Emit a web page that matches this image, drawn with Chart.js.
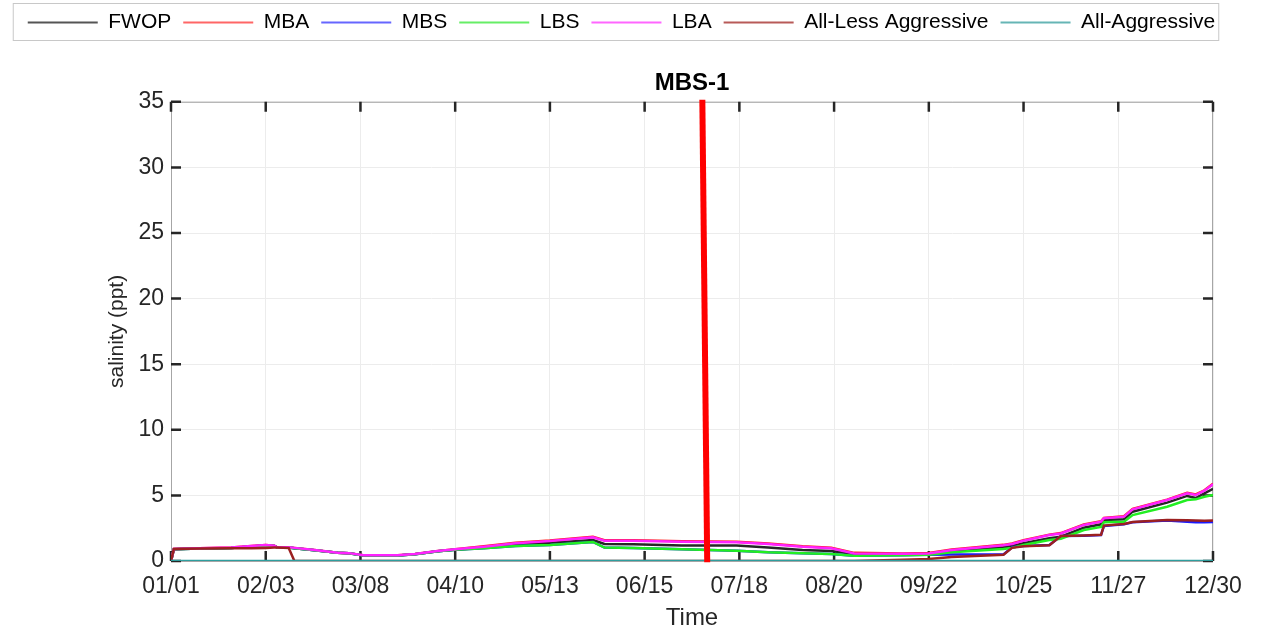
<!DOCTYPE html>
<html>
<head>
<meta charset="utf-8">
<script src="https://cdn.jsdelivr.net/npm/chart.js@4.4.1/dist/chart.umd.min.js"></script>
<style>
  html, body { margin: 0; padding: 0; background: #fff; }
</style>
</head>
<body>
<canvas id="chart" width="1261" height="630"></canvas>
<script>
// day of year (01/01 = 0)
const days = [0, 1, 10, 21, 28, 33, 36, 37, 41, 43,
  50, 58, 62, 67, 79, 85, 93, 99,
  109, 120, 132, 143, 147, 151, 161, 178, 197, 208,
  220, 230, 238, 255, 264, 272, 290, 293, 297, 306,
  310, 318, 324, 325, 332, 335, 347, 354, 357, 360,
  363];

const xTickLabels = ["01/01", "02/03", "03/08", "04/10", "05/13", "06/15",
  "07/18", "08/20", "09/22", "10/25", "11/27", "12/30"];
const yTicks = [0, 5, 10, 15, 20, 25, 30, 35];

const seriesNames = ["FWOP", "MBA", "MBS", "LBS", "LBA", "All-Less Aggressive", "All-Aggressive"];
const seriesColors = ["#262626", "#ff1a1a", "#1a1aff", "#22ee22", "#ff22ff", "#9c2020", "#2e9e9e"];
const legendColors = ["#555555", "#ff6666", "#6666ff", "#66ee66", "#ff66ff", "#b85a58", "#66b5b5"];

const fwop = [0.0, 0.9, 0.95, 1.0, 1.1, 1.18, 1.14, 1.03, 1.02, 0.98,
  0.82, 0.62, 0.59, 0.42, 0.42, 0.52, 0.74, 0.86,
  1.03, 1.27, 1.4, 1.55, 1.6, 1.3, 1.27, 1.19, 1.18, 1.02,
  0.83, 0.76, 0.53, 0.5, 0.52, 0.76, 1.04, 1.15, 1.35, 1.73,
  1.85, 2.54, 2.8, 3.13, 3.18, 3.76, 4.45, 4.96, 4.8, 5.16,
  5.5];

const mba = [0.0, 0.92, 0.97, 1.02, 1.14, 1.22, 1.17, 1.05, 1.04, 1.0,
  0.84, 0.63, 0.6, 0.43, 0.43, 0.53, 0.76, 0.9,
  1.12, 1.39, 1.56, 1.77, 1.84, 1.59, 1.59, 1.51, 1.46, 1.34,
  1.13, 1.01, 0.62, 0.58, 0.61, 0.87, 1.23, 1.33, 1.58, 2.01,
  2.13, 2.78, 3.03, 3.29, 3.41, 3.97, 4.68, 5.19, 5.07, 5.39,
  5.88];

const mbs = [0.0, 0.9, 0.95, 1.0, 1.1, 1.18, 1.14, 1.03, 1.02, 0.98,
  0.82, 0.62, 0.59, 0.42, 0.42, 0.52, 0.74, 0.85,
  0.97, 1.14, 1.22, 1.4, 1.45, 1.02, 1.0, 0.89, 0.79, 0.66,
  0.6, 0.53, 0.4, 0.43, 0.47, 0.5, 0.5, 1.05, 1.14, 1.22,
  1.9, 1.93, 1.98, 2.67, 2.8, 2.95, 3.08, 3.0, 2.95, 2.95,
  2.98];

const lbs = [0.0, 0.9, 0.95, 1.0, 1.1, 1.18, 1.14, 1.03, 1.02, 0.98,
  0.82, 0.62, 0.59, 0.42, 0.42, 0.52, 0.74, 0.85,
  0.97, 1.14, 1.22, 1.4, 1.45, 1.02, 1.0, 0.89, 0.79, 0.66,
  0.6, 0.53, 0.4, 0.43, 0.47, 0.66, 0.92, 1.0, 1.22, 1.6,
  1.7, 2.36, 2.6, 2.95, 3.0, 3.5, 4.14, 4.65, 4.7, 4.9,
  5.03];

const lba = [0.0, 0.92, 0.97, 1.02, 1.14, 1.22, 1.17, 1.05, 1.04, 1.0,
  0.84, 0.63, 0.6, 0.43, 0.43, 0.53, 0.76, 0.89,
  1.09, 1.35, 1.52, 1.73, 1.8, 1.55, 1.55, 1.47, 1.42, 1.3,
  1.09, 0.97, 0.58, 0.55, 0.58, 0.84, 1.2, 1.3, 1.55, 1.98,
  2.1, 2.75, 3.0, 3.26, 3.38, 3.94, 4.65, 5.16, 5.03, 5.36,
  5.85];

const allLess = [0.0, 0.92, 0.95, 0.97, 0.98, 1.0, 1.02, 1.02, 1.0, 0.0,
  0, 0, 0, 0, 0, 0, 0, 0,
  0, 0, 0, 0, 0, 0, 0, 0, 0, 0,
  0, 0, 0, 0.1, 0.15, 0.3, 0.48, 1.0, 1.12, 1.2,
  1.9, 1.95, 2.0, 2.7, 2.82, 2.97, 3.12, 3.1, 3.08, 3.07,
  3.08];

const allAggr = [0, 0, 0, 0, 0, 0, 0, 0, 0, 0,
  0, 0, 0, 0, 0, 0, 0, 0,
  0, 0, 0, 0, 0, 0, 0, 0, 0, 0,
  0, 0, 0, 0, 0, 0, 0, 0, 0, 0,
  0, 0, 0, 0, 0, 0, 0, 0, 0, 0,
  0];

// MBS-1 marker line (slightly slanted in the original)
const markerDays = [185.1, 186.8];
const markerVals = [35.15, -0.1];

const allSeries = [fwop, mba, mbs, lbs, lba, allLess, allAggr];

Chart.defaults.font.family = "'Liberation Sans', Arial, sans-serif";
Chart.defaults.color = "#262626";

const toPoints = (xs, ys) => xs.map((d, i) => ({ x: d, y: ys[i] }));

const datasets = allSeries.map((vals, i) => ({
  label: seriesNames[i],
  data: toPoints(days, vals),
  borderColor: seriesColors[i],
  backgroundColor: legendColors[i],
  borderWidth: 2.5,
  pointRadius: 0,
  tension: 0,
  order: 10 - i, // later series on top, like the original
}));

datasets.push({
  label: "marker",
  data: toPoints(markerDays, markerVals),
  borderColor: "#ff0000",
  backgroundColor: "#ff0000",
  borderWidth: 6,
  pointRadius: 0,
  clip: false,
  order: 0,
});

// box around plot + inward tick marks
const axesBox = {
  id: "axesBox",
  beforeDatasetsDraw(chart) {
    const { ctx, chartArea: a, scales: { x, y } } = chart;
    ctx.save();
    ctx.strokeStyle = "#a6a6a6";
    ctx.lineWidth = 1;
    ctx.strokeRect(a.left + 0.5, a.top + 0.5, a.right - a.left - 1, a.bottom - a.top);
    ctx.strokeStyle = "#262626";
    ctx.lineWidth = 2.5;
    ctx.beginPath();
    x.ticks.forEach((t) => {
      const px = x.getPixelForValue(t.value);
      ctx.moveTo(px, a.top);
      ctx.lineTo(px, a.top + 10);
      ctx.moveTo(px, a.bottom);
      ctx.lineTo(px, a.bottom - 10);
    });
    y.ticks.forEach((t) => {
      const py = y.getPixelForValue(t.value);
      ctx.moveTo(a.left, py);
      ctx.lineTo(a.left + 10, py);
      ctx.moveTo(a.right, py);
      ctx.lineTo(a.right - 10, py);
    });
    ctx.stroke();
    ctx.restore();
  },
};

// frame around legend
const legendFrame = {
  id: "legendFrame",
  afterDraw(chart) {
    const boxes = chart.legend && chart.legend.legendHitBoxes;
    if (!boxes || !boxes.length) return;
    const first = boxes[0];
    const last = boxes[boxes.length - 1];
    const { ctx } = chart;
    ctx.save();
    ctx.strokeStyle = "#c8c8c8";
    ctx.lineWidth = 1;
    const left = first.left - 15;
    const right = last.left + last.width + 3;
    const top = first.top - 9;
    const bottom = first.top + first.height + 7;
    ctx.strokeRect(left + 0.5, top + 0.5, right - left, bottom - top);
    ctx.restore();
  },
};

const defaultLabels = Chart.defaults.plugins.legend.labels.generateLabels;

new Chart(document.getElementById("chart"), {
  type: "line",
  data: { datasets },
  plugins: [axesBox, legendFrame],
  options: {
    responsive: false,
    animation: false,
    layout: { padding: { left: 0, right: 18, top: 0, bottom: 0 } },
    plugins: {
      tooltip: { enabled: false },
      legend: {
        display: true,
        position: "top",
        weight: 3000,
        labels: {
          boxWidth: 70,
          boxHeight: 2,
          padding: 12,
          color: "#000",
          font: { size: 21 },
          filter: (item) => item.datasetIndex < 7,
          sort: (a, b) => a.datasetIndex - b.datasetIndex,
          generateLabels(chart) {
            return defaultLabels(chart).map((l) => ({ ...l, lineWidth: 0 }));
          },
        },
      },
      title: {
        display: true,
        text: "MBS-1",
        color: "#000",
        weight: 500,
        fullSize: false,
        font: { size: 24, weight: "bold" },
        padding: { top: 26, bottom: 4 },
      },
    },
    scales: {
      x: {
        type: "linear",
        min: 0,
        max: 363,
        afterFit: (s) => { s.height = 69; },
        grid: { color: "#ececec", drawTicks: false },
        border: { display: false },
        ticks: {
          stepSize: 33,
          autoSkip: false,
          maxRotation: 0,
          padding: 12,
          color: "#262626",
          font: { size: 23 },
          callback: (v) => xTickLabels[Math.round(v / 33)],
        },
        title: {
          display: true,
          text: "Time",
          color: "#262626",
          font: { size: 24, lineHeight: 1 },
          padding: { top: 0, bottom: 0 },
        },
      },
      y: {
        min: 0,
        max: 35,
        afterFit: (s) => { s.width = 171; },
        afterBuildTicks: (s) => { s.ticks = yTicks.map((v) => ({ value: v })); },
        grid: { color: "#ececec", drawTicks: false },
        border: { display: false },
        ticks: {
          padding: 7,
          color: "#262626",
          font: { size: 23 },
        },
        title: {
          display: true,
          text: "salinity (ppt)",
          color: "#262626",
          font: { size: 21 },
          padding: { top: 105, bottom: 0 },
        },
      },
      // empty right-hand spacer so the plot ends where the original does
      yRight: {
        position: "right",
        min: 0,
        max: 35,
        afterFit: (s) => { s.width = 30; },
        grid: { display: false },
        border: { display: false },
        ticks: { display: false },
      },
    },
  },
});
</script>
</body>
</html>
